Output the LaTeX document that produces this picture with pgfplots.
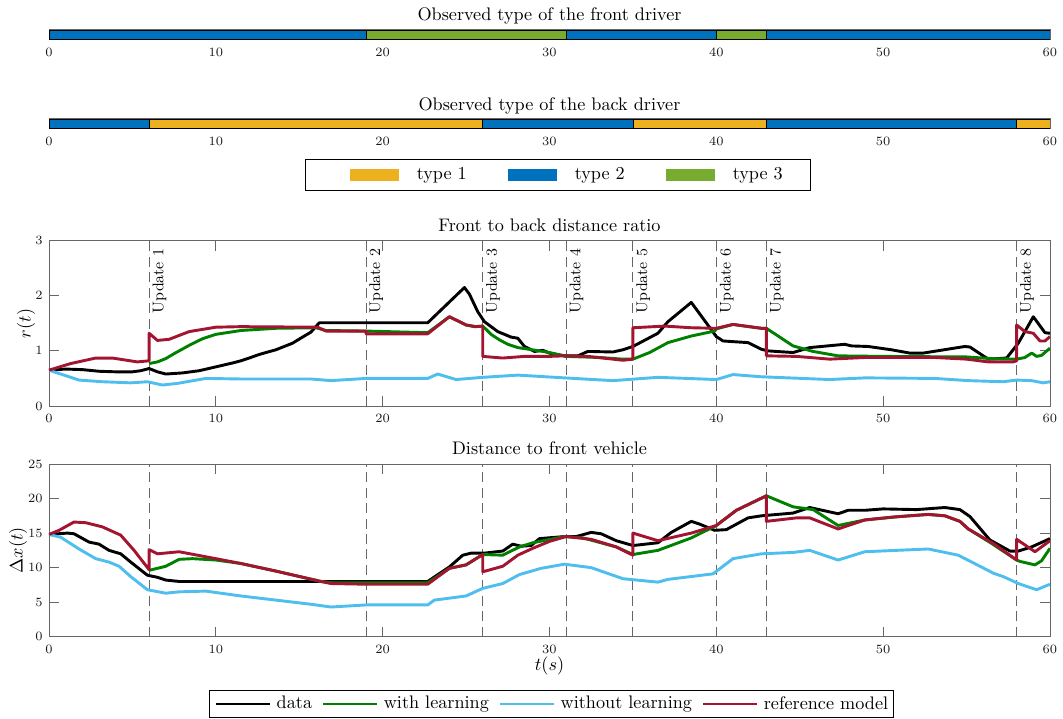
\documentclass[border=0pt]{standalone}
\usepackage{pgfplots}
\pgfplotsset{compat=1.18}
\definecolor{typeA}{RGB}{237,177,32}
\definecolor{typeB}{RGB}{0,114,189}
\definecolor{typeC}{RGB}{119,172,48}
\definecolor{withL}{RGB}{0,128,0}
\definecolor{woL}{RGB}{77,190,238}
\definecolor{refM}{RGB}{162,20,47}
\definecolor{axcol}{gray}{0.4}
\tikzset{upd/.style={rotate=90, anchor=north east, inner sep=0pt, font=\fontsize{8.5}{10}\selectfont}}
\pgfplotsset{
  every axis title shift=0pt,
  myaxis/.style={scale only axis, width=550.55pt, xmin=0, xmax=60,
    xtick={0,10,...,60}, axis line style={axcol, line width=0.5pt},
    tick style={axcol, line width=0.5pt}, tick align=inside,
    major tick length=5.5pt,
    ticklabel style={font=\fontsize{7.5}{9}\selectfont, text=black!90},
    xticklabel style={yshift=-1.3pt},
    title style={font=\normalsize, at={(axis description cs:0.5,1)}, anchor=base},
    label style={font=\normalsize}},
  baraxis/.style={myaxis, ymin=0, ymax=1, ytick=\empty, major tick length=1.2pt, axis on top=false},
  typeleg/.style={legend image code/.code={\fill[#1] (0pt,-2.9pt) rectangle (26.4pt,2.9pt);}},
  typelegfirst/.style={legend image code/.code={\path (-8.8pt,0pt); \fill[#1] (0pt,-2.9pt) rectangle (26.4pt,2.9pt);}},
  bar/.style={draw=black, line width=0.4pt, fill=#1, forget plot},
  vline/.style={axcol, line width=0.5pt, dash pattern=on 5.5pt off 3pt, forget plot},
  curve/.style={line width=1.6pt, line join=round, #1}
}
\begin{document}
\begin{tikzpicture}
% ---------- front driver types ----------
\begin{axis}[baraxis, at={(26.95pt,-15.95pt)}, anchor=north west, height=5.67pt,
  title={Observed type of the front driver}, title style={yshift=4.9pt}]
\addplot[bar=typeB] coordinates {(0,0) (19,0) (19,0.9) (0,0.9)} -- cycle;
\addplot[bar=typeC] coordinates {(19,0) (31,0) (31,0.9) (19,0.9)} -- cycle;
\addplot[bar=typeB] coordinates {(31,0) (40,0) (40,0.9) (31,0.9)} -- cycle;
\addplot[bar=typeC] coordinates {(40,0) (43,0) (43,0.9) (40,0.9)} -- cycle;
\addplot[bar=typeB] coordinates {(43,0) (60,0) (60,0.9) (43,0.9)} -- cycle;
\end{axis}
% ---------- back driver types ----------
\begin{axis}[baraxis, at={(26.95pt,-65.18pt)}, anchor=north west, height=5.4pt,
  title={Observed type of the back driver}, title style={yshift=4.3pt},
  legend style={at={(axis description cs:0.5,0)}, anchor=center, xshift=4.8pt, yshift=-25.7pt,
    draw=black, line width=0.5pt, inner xsep=15.4pt, inner ysep=4.5pt, font=\normalsize,
    /tikz/every odd column/.style={column sep=10pt},
    /tikz/every even column/.style={column sep=22.5pt},
    nodes={inner sep=0pt}},
  legend columns=3]
\addplot[bar=typeB] coordinates {(0,0) (6,0) (6,0.9) (0,0.9)} -- cycle;
\addplot[bar=typeA] coordinates {(6,0) (26,0) (26,0.9) (6,0.9)} -- cycle;
\addplot[bar=typeB] coordinates {(26,0) (35,0) (35,0.9) (26,0.9)} -- cycle;
\addplot[bar=typeA] coordinates {(35,0) (43,0) (43,0.9) (35,0.9)} -- cycle;
\addplot[bar=typeB] coordinates {(43,0) (58,0) (58,0.9) (43,0.9)} -- cycle;
\addplot[bar=typeA] coordinates {(58,0) (60,0) (60,0.9) (58,0.9)} -- cycle;
\addlegendimage{typelegfirst=typeA}\addlegendentry{type 1}
\addlegendimage{typeleg=typeB}\addlegendentry{type 2}
\addlegendimage{typeleg=typeC}\addlegendentry{type 3}
\end{axis}
% ---------- ratio ----------
\begin{axis}[myaxis, at={(26.95pt,-132.39pt)}, anchor=north west, height=90.9pt,
  ymin=0, ymax=3, ytick={0,1,2,3},
  title={Front to back distance ratio}, title style={yshift=5pt},
  ylabel={$r(t)$}, ylabel style={at={(axis description cs:-0.023,0.5)}, anchor=center}]
\addplot[vline] coordinates {(6,0) (6,3)};
\addplot[vline] coordinates {(19,0) (19,3)};
\addplot[vline] coordinates {(26,0) (26,3)};
\addplot[vline] coordinates {(31,0) (31,3)};
\addplot[vline] coordinates {(35,0) (35,3)};
\addplot[vline] coordinates {(40,0) (40,3)};
\addplot[vline] coordinates {(43,0) (43,3)};
\addplot[vline] coordinates {(58,0) (58,3)};
\addplot[curve=black] coordinates {(0,0.65) (1,0.67) (2,0.66) (3,0.63) (4,0.62) (5,0.62) (5.5,0.64) (6,0.68) (6.5,0.62) (7,0.58) (8,0.6) (9,0.64) (10,0.71) (11,0.78) (11.5,0.82) (12,0.87) (12.55,0.93) (13,0.97) (13.6,1.02) (14.6,1.14) (15.25,1.26) (15.7,1.34) (16.2,1.51) (22.7,1.51) (24.9,2.15) (25.2,2.03) (25.7,1.71) (26.1,1.53) (26.9,1.35) (27.7,1.25) (28.1,1.23) (28.5,1.08) (29.1,0.99) (29.6,1.01) (30,0.96) (30.9,0.91) (31.7,0.91) (32.3,0.99) (33.8,0.98) (34.4,1.02) (35,1.08) (36.5,1.32) (37.1,1.53) (38.5,1.88) (40,1.26) (40.4,1.18) (41.9,1.15) (42.7,1.03) (43.1,1.0) (44.6,0.97) (45.6,1.06) (47.7,1.12) (48.1,1.09) (49.1,1.08) (50.5,1.02) (51.6,0.96) (52.4,0.96) (54.9,1.08) (55.2,1.07) (56.3,0.85) (57.4,0.87) (58.1,1.14) (59,1.62) (59.7,1.33) (60,1.32)};
\addplot[curve=withL] coordinates {(6,0.77) (6.5,0.8) (7,0.86) (7.5,0.95) (8.4,1.1) (9.2,1.22) (10,1.3) (11.5,1.37) (13.6,1.41) (16,1.42) (16.6,1.37) (19,1.36) (22.7,1.33) (24,1.62) (25,1.47) (25.5,1.44) (26,1.45) (26.5,1.3) (27,1.2) (27.5,1.12) (28.1,1.06) (29.4,1.0) (30,0.97) (31,0.9) (33,0.88) (34.4,0.85) (35,0.85) (36,0.97) (37.1,1.15) (38.5,1.27) (39.9,1.36) (40,1.4) (41,1.48) (42.7,1.41) (43,1.41) (43.8,1.25) (44.6,1.09) (45.8,0.99) (47.3,0.91) (50,0.9) (55,0.89) (56.5,0.86) (58,0.85) (58.5,0.88) (58.9,0.96) (59.2,0.9) (59.5,0.92) (60,1.05)};
\addplot[curve=woL] coordinates {(0,0.65) (1.8,0.47) (3.2,0.44) (4.9,0.42) (5.9,0.44) (6.8,0.38) (7.7,0.41) (9.4,0.5) (11.5,0.49) (15.7,0.49) (16.9,0.46) (19,0.5) (22.7,0.5) (23.3,0.58) (24.4,0.48) (26,0.52) (28.1,0.56) (30.9,0.51) (33.8,0.46) (36.5,0.52) (40,0.48) (41,0.57) (42.7,0.53) (46.8,0.48) (48.9,0.51) (53.1,0.5) (55.1,0.46) (57.2,0.44) (58,0.47) (58.9,0.46) (59.6,0.42) (60,0.44)};
\addplot[curve=refM] coordinates {(0,0.65) (1.3,0.77) (2.8,0.87) (3.8,0.87) (5.3,0.8) (6,0.82) (6,1.32) (6.5,1.19) (7.2,1.21) (8.4,1.35) (10,1.43) (11.5,1.44) (16.1,1.43) (16.6,1.36) (19,1.36) (19,1.31) (22.7,1.31) (24,1.62) (25,1.47) (25.6,1.44) (26,1.45) (26,0.9) (27.2,0.87) (28.5,0.9) (30,0.9) (30.9,0.91) (32.3,0.9) (34.4,0.83) (35,0.85) (35,1.42) (36.9,1.45) (38.5,1.42) (40,1.41) (41,1.48) (42.7,1.41) (43,1.41) (43,0.91) (44.8,0.9) (46.8,0.85) (48.9,0.88) (53.1,0.88) (55,0.85) (56.3,0.8) (57.8,0.8) (58,0.82) (58,1.47) (58.5,1.35) (59,1.32) (59.4,1.18) (59.7,1.18) (60,1.26)};
\node[upd] at ([xshift=1.7pt, yshift=-4.2pt]axis cs:6,3) {Update 1};
\node[upd] at ([xshift=1.7pt, yshift=-4.2pt]axis cs:19,3) {Update 2};
\node[upd] at ([xshift=1.7pt, yshift=-4.2pt]axis cs:26,3) {Update 3};
\node[upd] at ([xshift=1.7pt, yshift=-4.2pt]axis cs:31,3) {Update 4};
\node[upd] at ([xshift=1.7pt, yshift=-4.2pt]axis cs:35,3) {Update 5};
\node[upd] at ([xshift=1.7pt, yshift=-4.2pt]axis cs:40,3) {Update 6};
\node[upd] at ([xshift=1.7pt, yshift=-4.2pt]axis cs:43,3) {Update 7};
\node[upd] at ([xshift=1.7pt, yshift=-4.2pt]axis cs:58,3) {Update 8};
\end{axis}
% ---------- distance ----------
\begin{axis}[myaxis, at={(26.95pt,-255.2pt)}, anchor=north west, height=95pt,
  ymin=0, ymax=25, ytick={0,5,...,25},
  title={Distance to front vehicle}, title style={yshift=5pt},
  ylabel={$\Delta x(t)$}, ylabel style={at={(axis description cs:-0.031,0.5)}, anchor=center},
  xlabel={$t(s)$}, xlabel style={at={(axis description cs:0.5,0)}, anchor=center, yshift=-16.1pt},
  legend image code/.code={\draw[#1] (0pt,0pt) -- (29.7pt,0pt);},
  legend style={at={(axis description cs:0.5,0)}, anchor=center, xshift=1.1pt, yshift=-37pt,
    draw=black, line width=0.5pt, inner xsep=3pt, inner ysep=3.2pt, font=\normalsize,
    /tikz/every odd column/.style={column sep=2.75pt},
    /tikz/every even column/.style={column sep=5.4pt},
    nodes={inner sep=0pt}},
  legend columns=4]
\addplot[vline] coordinates {(6,0) (6,25)};
\addplot[vline] coordinates {(19,0) (19,25)};
\addplot[vline] coordinates {(26,0) (26,25)};
\addplot[vline] coordinates {(31,0) (31,25)};
\addplot[vline] coordinates {(35,0) (35,25)};
\addplot[vline] coordinates {(40,0) (40,25)};
\addplot[vline] coordinates {(43,0) (43,25)};
\addplot[vline] coordinates {(58,0) (58,25)};
\addplot[curve=black] coordinates {(0,14.8) (1.1,15.0) (1.5,14.9) (2.4,13.7) (3,13.4) (3.6,12.5) (4.3,12.0) (4.9,10.8) (5.9,8.9) (6.5,8.6) (7,8.2) (7.8,8.0) (22.7,8.0) (24,10.1) (24.8,11.8) (25.3,12.1) (26.1,12.1) (27.2,12.4) (27.8,13.4) (28.3,13.1) (28.9,13.2) (29.4,14.2) (30.9,14.5) (31.6,14.5) (32.5,15.1) (33.1,14.9) (34,13.9) (35,13.2) (36.5,13.6) (37.3,15.1) (38.5,16.7) (39,16.3) (39.9,15.4) (40.6,15.5) (41.9,17.2) (42.7,17.5) (44.6,17.9) (45.6,18.7) (47.3,17.8) (47.9,18.3) (48.9,18.3) (50,18.5) (52,18.4) (53.7,18.7) (54.6,18.4) (55.2,17.4) (56.4,14.0) (57.6,12.4) (58.1,12.4) (58.9,13.0) (60,14.2)};
\addlegendentry{data}
\addplot[curve=withL] coordinates {(6,9.6) (7,10.2) (7.8,11.2) (8.6,11.3) (10,11.1) (11.5,10.6) (13.6,9.5) (16.3,8.0) (17,7.8) (22.7,7.8) (24,9.9) (25,10.4) (26,11.9) (27.2,11.8) (28.2,13.0) (29,13.6) (30.9,14.5) (32,14.3) (34,13.0) (35,11.9) (36.5,12.5) (38.5,14.3) (40,16.1) (41.2,18.3) (43,20.4) (44.6,18.8) (45.8,18.4) (47.3,16.1) (48.9,16.9) (51,17.4) (52.7,17.7) (53.7,17.5) (54.6,16.7) (55.1,15.6) (56.5,13.5) (58,11.1) (58.2,10.9) (59.1,10.4) (59.5,11.0) (60,12.8)};
\addlegendentry{with learning}
\addplot[curve=woL] coordinates {(0,14.8) (0.7,14.4) (1.8,12.7) (2.8,11.3) (3.6,10.8) (4.2,10.2) (4.9,8.7) (5.9,6.8) (7,6.3) (7.8,6.5) (9.4,6.6) (11.5,5.9) (13.6,5.3) (15.7,4.7) (16.9,4.3) (19,4.6) (22.7,4.6) (23.1,5.3) (25,5.9) (26,7.0) (27.2,7.7) (28.2,9.0) (29.5,9.9) (30.9,10.5) (32.5,10.0) (34.4,8.4) (36.5,7.9) (37.1,8.3) (39.8,9.1) (41,11.3) (42.7,12.0) (44.6,12.2) (45.6,12.5) (47.3,11.1) (48.9,12.3) (52.7,12.7) (54.5,11.8) (55.8,10.2) (56.6,9.2) (57.2,8.7) (58.1,7.7) (59.2,6.8) (60,7.6)};
\addlegendentry{without learning}
\addplot[curve=refM] coordinates {(0,14.8) (0.6,15.4) (1.5,16.6) (2.2,16.5) (3.2,15.9) (4.3,14.7) (5.1,12.5) (6,9.7) (6,12.6) (6.5,12.0) (7.8,12.3) (10,11.3) (11.5,10.6) (13.6,9.5) (16.3,8.0) (16.9,7.7) (19,7.6) (22.7,7.6) (24,9.9) (25,10.4) (26,11.9) (26,9.4) (27.2,10.2) (28.1,11.8) (29,12.8) (30,13.8) (31,14.5) (32.5,14.1) (34,13.0) (35,11.8) (35,15.0) (36.5,13.9) (38.5,15.0) (40,16.1) (41.2,18.3) (43,20.4) (43,16.7) (44.8,17.2) (45.6,17.2) (47.3,15.6) (48.9,16.9) (50.5,17.3) (52.7,17.7) (53.7,17.5) (54.6,16.7) (55.1,15.6) (56.6,13.5) (58,11.1) (58,14.1) (59.1,12.3) (60,13.9)};
\addlegendentry{reference model}
\end{axis}
\pgfresetboundingbox
\path[use as bounding box] (0pt,0pt) rectangle (584.65pt,-395.45pt);
\end{tikzpicture}
\end{document}
